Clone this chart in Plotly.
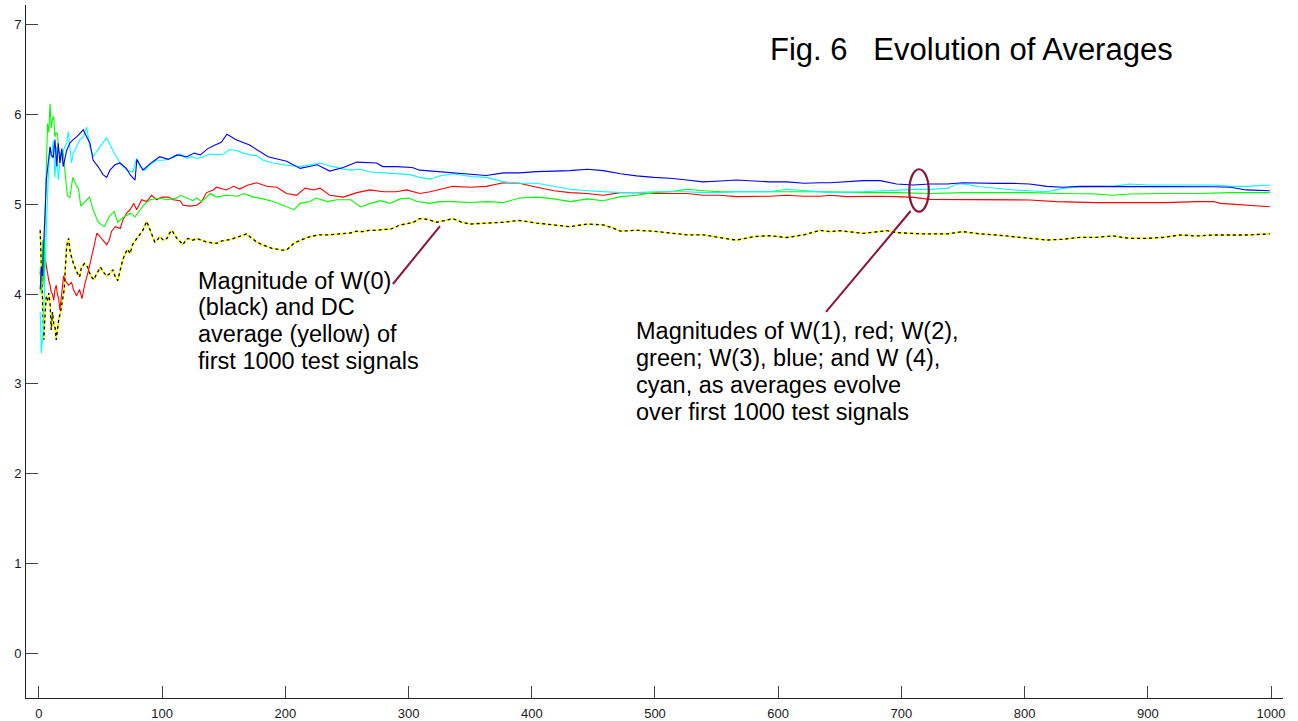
import plotly.graph_objects as go

# ---------------- data ----------------
w0_x = [1, 2, 3, 4, 5, 6, 7, 8, 9, 10, 11, 12, 13, 14, 15, 16, 17.5, 19, 20.5, 21.5, 22.5, 24, 25.5, 28, 30.5, 33,
        34.5, 37, 39.5, 42, 44.5, 47, 50, 52, 55, 57.6, 60, 62, 64, 66, 68, 70, 72, 74, 76, 79.5, 81.5, 84, 87.5,
        90, 92, 94, 96, 98, 101, 104, 106, 108, 110, 112, 115, 117, 119, 121, 125, 128, 132, 136, 140, 144, 148,
        152, 156, 160.5, 165, 168.6, 172, 176.7, 181, 185, 189, 193, 197, 201, 204, 206.5, 212, 216, 220, 228,
        236, 244, 252.5, 258, 263, 268, 274, 280, 285, 290, 293, 298, 304, 309, 312, 317, 323, 330, 336, 343,
        350, 363, 377, 390, 404, 418, 431, 445, 458, 465, 472, 485, 499, 512, 526, 539, 553, 566, 580, 593, 607,
        621, 634, 642, 650, 669, 688, 696, 718, 737, 750, 764, 777, 791, 804, 818, 831, 845, 858, 872, 885, 899,
        913, 926, 940, 953, 967, 980, 999]
w0_y = [4.71, 4.30, 3.79, 3.49, 3.80, 3.97, 3.93, 4.01, 3.90, 3.60, 3.80, 3.67, 3.64, 3.49, 3.60, 3.71, 3.80, 3.93,
        4.05, 4.30, 4.53, 4.62, 4.46, 4.34, 4.25, 4.19, 4.30, 4.34, 4.30, 4.20, 4.16, 4.23, 4.30, 4.25, 4.20, 4.23,
        4.27, 4.19, 4.15, 4.27, 4.38, 4.45, 4.50, 4.45, 4.55, 4.62, 4.66, 4.70, 4.81, 4.72, 4.65, 4.58, 4.60, 4.64,
        4.60, 4.62, 4.68, 4.71, 4.66, 4.62, 4.58, 4.55, 4.60, 4.62, 4.60, 4.62, 4.60, 4.58, 4.57, 4.565, 4.59,
        4.60, 4.61, 4.63, 4.65, 4.67, 4.63, 4.58, 4.55, 4.53, 4.51, 4.50, 4.49, 4.49, 4.53, 4.56, 4.60, 4.62,
        4.64, 4.66, 4.66, 4.67, 4.68, 4.70, 4.695, 4.71, 4.71, 4.72, 4.72, 4.75, 4.77, 4.78, 4.80, 4.84, 4.84,
        4.825, 4.80, 4.82, 4.84, 4.80, 4.78, 4.79, 4.80, 4.82, 4.79, 4.77, 4.75, 4.78, 4.77, 4.74, 4.70, 4.71,
        4.70, 4.68, 4.66, 4.66, 4.63, 4.60, 4.64, 4.65, 4.63, 4.66, 4.71, 4.695, 4.706, 4.676, 4.706, 4.684,
        4.67, 4.67, 4.695, 4.67, 4.658, 4.64, 4.62, 4.602, 4.61, 4.632, 4.632, 4.647, 4.62, 4.62, 4.632, 4.658,
        4.647, 4.658, 4.658, 4.658, 4.67]
dc_avg_x = w0_x
dc_avg_y = w0_y

w1_x = [1, 2, 3, 4, 5, 6, 7, 8, 9, 10, 11, 12, 13, 14, 15, 16, 17, 18, 19, 20, 22, 24, 26.5, 28, 30.5, 33, 35, 37,
        40, 42.8, 45, 47, 50, 52, 55, 57, 59, 62, 66, 68, 71, 74, 77, 79.3, 83.4, 87.4, 91.5, 95.5, 99.6, 105,
        109, 114.5, 117, 122.6, 128, 132, 136, 141.5, 144, 152, 158, 163, 168.6, 176.7, 184.8, 193, 201, 209,
        216, 222.7, 228, 236, 247, 258, 268.7, 279.5, 290, 298.5, 309, 317.5, 323, 336, 350, 363, 377, 390, 404,
        418, 431, 445, 458, 472, 485, 499, 512, 526, 539, 553, 566, 580, 593, 607, 621, 634, 642, 656, 669, 683,
        696, 710, 723, 750, 777, 804, 826, 845, 858, 885, 913, 940, 953, 959, 980, 999]
w1_y = [4.25, 4.05, 4.35, 4.15, 4.40, 4.30, 4.20, 4.15, 4.10, 4.02, 4.00, 3.93, 4.05, 4.10, 4.00, 3.95, 3.82, 3.95,
        4.10, 4.20, 4.14, 4.10, 4.13, 4.05, 3.98, 4.05, 3.95, 4.10, 4.25, 4.40, 4.55, 4.68, 4.63, 4.60, 4.55, 4.60,
        4.70, 4.75, 4.73, 4.82, 4.90, 4.94, 5.01, 4.94, 5.05, 5.03, 5.10, 5.05, 5.08, 5.08, 5.05, 5.04, 4.99,
        4.98, 4.99, 5.03, 5.13, 5.16, 5.19, 5.16, 5.20, 5.17, 5.21, 5.24, 5.20, 5.19, 5.12, 5.10, 5.18, 5.16,
        5.18, 5.10, 5.08, 5.13, 5.16, 5.14, 5.14, 5.16, 5.12, 5.14, 5.16, 5.20, 5.19, 5.20, 5.24, 5.234, 5.19,
        5.15, 5.13, 5.12, 5.10, 5.13, 5.13, 5.12, 5.12, 5.12, 5.10, 5.10, 5.085, 5.085, 5.09, 5.10, 5.09, 5.09,
        5.10, 5.085, 5.09, 5.09, 5.085, 5.077, 5.055, 5.055, 5.055, 5.048, 5.03, 5.018, 5.018, 5.018, 5.018,
        5.03, 5.03, 5.01, 4.99, 4.973]

w2_x = [1, 2, 3, 4, 5, 6, 7, 8, 9, 10, 11, 12, 13, 14, 15, 16, 18, 19.5, 21, 23, 25, 27.5, 30, 32, 34, 37, 41, 44,
        48, 53, 57, 61, 64, 68, 74, 78, 82, 85, 90, 98, 104, 112, 115, 120, 125, 128, 132, 136, 139, 144, 152,
        161, 166, 174, 182, 190, 198, 207, 212, 220, 225, 234, 242, 253, 261, 269, 277, 285, 293, 300, 307, 317,
        325, 336, 350, 363, 377, 390, 404, 418, 431, 445, 458, 472, 485, 499, 512, 526, 539, 553, 566, 580, 593,
        607, 621, 634, 642, 669, 696, 723, 750, 777, 804, 831, 858, 872, 885, 913, 940, 967, 999]
w2_y = [4.30, 4.00, 4.60, 4.10, 4.90, 5.50, 5.90, 5.80, 6.12, 5.85, 5.95, 5.98, 5.75, 5.80, 5.78, 5.60, 5.53, 5.60,
        5.40, 5.10, 5.07, 5.30, 5.22, 5.18, 4.98, 5.02, 5.08, 4.94, 4.80, 4.75, 4.86, 4.92, 4.80, 4.85, 4.90, 4.86,
        4.94, 4.99, 5.05, 5.07, 5.05, 5.07, 5.10, 5.07, 5.04, 5.07, 5.03, 5.08, 5.12, 5.08, 5.10, 5.09, 5.12,
        5.08, 5.06, 5.03, 4.99, 4.94, 5.01, 5.03, 5.07, 5.03, 5.05, 5.05, 4.97, 5.01, 5.04, 5.01, 5.06, 5.07,
        5.03, 5.01, 5.03, 5.03, 5.02, 5.03, 5.02, 5.07, 5.08, 5.06, 5.03, 5.06, 5.04, 5.085, 5.10, 5.13, 5.14,
        5.167, 5.15, 5.14, 5.14, 5.14, 5.14, 5.14, 5.14, 5.14, 5.14, 5.13, 5.13, 5.12, 5.13, 5.13, 5.13, 5.12,
        5.114, 5.10, 5.114, 5.12, 5.12, 5.13, 5.13]

w3_x = [1, 2, 3, 3.5, 5, 6, 7.5, 9, 10, 11.6, 13, 14.4, 15.7, 17, 18.5, 19.7, 22.5, 25, 27.8, 30.6, 33.3, 36, 37.3,
        41.4, 44, 48, 52, 55, 57.6, 61.7, 65.7, 71, 74, 78, 79.5, 84.4, 90, 98, 105, 112, 120, 126, 131, 137, 143,
        148, 152.6, 156, 160, 171, 186, 201, 212, 226, 236, 247, 258, 274, 279, 290, 303, 309, 323, 336, 350, 363,
        377, 390, 404, 418, 431, 445, 458, 472, 485, 499, 512, 526, 539, 553, 566, 580, 593, 607, 621, 634, 642,
        669, 683, 696, 710, 723, 737, 750, 764, 777, 791, 804, 818, 831, 845, 858, 872, 885, 899, 913, 926, 940,
        953, 967, 980, 999]
w3_y = [4.05, 4.30, 4.20, 4.46, 4.90, 5.27, 5.46, 5.64, 5.55, 5.52, 5.72, 5.42, 5.68, 5.46, 5.62, 5.42, 5.60, 5.68,
        5.72, 5.75, 5.79, 5.83, 5.79, 5.68, 5.49, 5.42, 5.33, 5.30, 5.38, 5.44, 5.46, 5.40, 5.33, 5.27, 5.50, 5.38,
        5.45, 5.53, 5.50, 5.55, 5.53, 5.57, 5.55, 5.62, 5.66, 5.69, 5.78, 5.75, 5.72, 5.66, 5.53, 5.48, 5.40, 5.44,
        5.37, 5.41, 5.47, 5.46, 5.42, 5.42, 5.41, 5.38, 5.364, 5.35, 5.33, 5.32, 5.35, 5.35, 5.364, 5.37, 5.375,
        5.39, 5.375, 5.34, 5.316, 5.30, 5.29, 5.27, 5.25, 5.26, 5.27, 5.26, 5.25, 5.25, 5.234, 5.24, 5.24, 5.263,
        5.263, 5.226, 5.215, 5.226, 5.226, 5.24, 5.233, 5.233, 5.233, 5.226, 5.20, 5.19, 5.20, 5.20, 5.196, 5.20,
        5.196, 5.196, 5.196, 5.196, 5.196, 5.19, 5.16, 5.15]

w4_x = [1, 2, 3.5, 5, 6, 7.5, 9, 10.3, 11.6, 13, 14.4, 15.7, 17, 19.7, 22.5, 23.8, 25.2, 26.5, 27.8, 30.6, 33.3, 36,
        38.7, 41.4, 44, 49.5, 55, 60, 65.7, 71.4, 76.3, 79.3, 82, 86, 90, 95.5, 101, 109, 114.5, 120, 124, 128,
        133.4, 139, 144, 149.7, 155, 160.5, 166, 171.3, 176.7, 182, 190, 198, 206.5, 212, 220, 228, 236, 244.4,
        252.5, 260.6, 268.7, 279.5, 290, 301, 309, 317, 325, 336, 350, 363, 377, 390, 404, 418, 431, 445, 458, 472,
        485, 499, 512, 526, 539, 553, 566, 580, 593, 607, 621, 634, 642, 669, 683, 696, 710, 723, 737, 745, 750,
        764, 777, 791, 804, 818, 831, 845, 858, 872, 885, 899, 913, 926, 940, 953, 967, 980, 999]
w4_y = [3.80, 3.34, 3.64, 4.16, 4.71, 5.27, 5.64, 5.52, 5.71, 5.30, 5.64, 5.27, 5.46, 5.60, 5.68, 5.81, 5.64, 5.46,
        5.57, 5.64, 5.72, 5.75, 5.86, 5.64, 5.53, 5.64, 5.74, 5.60, 5.46, 5.38, 5.36, 5.51, 5.42, 5.38, 5.44, 5.49,
        5.49, 5.52, 5.56, 5.51, 5.53, 5.51, 5.53, 5.56, 5.55, 5.56, 5.61, 5.60, 5.57, 5.55, 5.54, 5.49, 5.46, 5.44,
        5.43, 5.42, 5.44, 5.46, 5.43, 5.40, 5.38, 5.39, 5.36, 5.35, 5.34, 5.33, 5.30, 5.28, 5.315, 5.34, 5.31,
        5.30, 5.25, 5.234, 5.234, 5.20, 5.167, 5.15, 5.14, 5.13, 5.13, 5.14, 5.14, 5.14, 5.13, 5.13, 5.14, 5.14,
        5.14, 5.167, 5.15, 5.14, 5.13, 5.14, 5.15, 5.159, 5.166, 5.166, 5.177, 5.226, 5.226, 5.196, 5.177, 5.159,
        5.15, 5.14, 5.177, 5.196, 5.20, 5.20, 5.226, 5.215, 5.215, 5.215, 5.215, 5.215, 5.20, 5.20, 5.215]

x_ticks = [0, 100, 200, 300, 400, 500, 600, 700, 800, 900, 1000]
y_ticks = [0, 1, 2, 3, 4, 5, 6, 7]

title_text = "Fig. 6\u00a0\u00a0\u00a0Evolution of Averages"
note1_lines = ["Magnitude of W(0)", "(black) and DC", "average (yellow) of", "first 1000 test signals"]
note2_lines = ["Magnitudes of W(1), red; W(2),", "green; W(3), blue; and W (4),",
               "cyan, as averages evolve", "over first 1000 test signals"]

# ---------------- figure ----------------
FONT = "Arial, 'Liberation Sans', sans-serif"
fig = go.Figure()

def add_line(x, y, color, dash="solid", width=1.1):
    fig.add_trace(go.Scatter(x=x, y=y, mode="lines",
                             line=dict(color=color, width=width, dash=dash),
                             hoverinfo="skip", showlegend=False))

add_line(dc_avg_x, dc_avg_y, "#FFFF00", width=1.6)
add_line(w0_x, w0_y, "#000000", dash="3px,3px", width=1.3)
add_line(w1_x, w1_y, "#FF0000")
add_line(w2_x, w2_y, "#00FF00")
add_line(w4_x, w4_y, "#00FFFF")
add_line(w3_x, w3_y, "#0000FF")

MAROON = "#8B1538"
annotations = [dict(x=591.7, y=6.72, xref="x", yref="y", text=title_text, showarrow=False,
                    xanchor="left", yanchor="middle", font=dict(family=FONT, size=31, color="#000"))]
for txt, yy in zip(note1_lines, [4.146, 3.851, 3.556, 3.255]):
    annotations.append(dict(x=127.4, y=yy, xref="x", yref="y", text=txt, showarrow=False,
                            xanchor="left", yanchor="middle", font=dict(family=FONT, size=23.5, color="#000")))
for txt, yy in zip(note2_lines, [3.589, 3.288, 2.988, 2.687]):
    annotations.append(dict(x=483.0, y=yy, xref="x", yref="y", text=txt, showarrow=False,
                            xanchor="left", yanchor="middle", font=dict(family=FONT, size=23.5, color="#000")))

shapes = [
    dict(type="line", xref="x", yref="y", x0=287.3, y0=4.112, x1=325.5, y1=4.758,
         line=dict(color=MAROON, width=2)),
    dict(type="line", xref="x", yref="y", x0=707.5, y0=4.925, x1=638.8, y1=3.801,
         line=dict(color=MAROON, width=2)),
    dict(type="circle", xref="x", yref="y", x0=706.4, x1=722.2, y0=4.918, y1=5.390,
         line=dict(color=MAROON, width=2.2)),
]

axis_common = dict(showgrid=False, zeroline=False, showline=True, linecolor="#222", linewidth=1,
                   ticks="inside", ticklen=12, tickwidth=1, tickcolor="#444", automargin=False,
                   tickfont=dict(family=FONT, size=13, color="#1a1a1a"))

fig.update_layout(
    width=1298, height=721,
    margin=dict(l=26, r=15, t=5, b=23, pad=0),
    paper_bgcolor="white", plot_bgcolor="white",
    showlegend=False,
    xaxis=dict(range=[-10.5, 1009.7], tickvals=x_ticks, ticktext=[str(v) for v in x_ticks],
               ticklabelstandoff=3, **axis_common),
    yaxis=dict(range=[-0.5, 7.22], tickvals=y_ticks, ticktext=[str(v) for v in y_ticks],
               ticklabelstandoff=1, **axis_common),
    annotations=annotations,
    shapes=shapes,
)

fig.write_html("out.html")
